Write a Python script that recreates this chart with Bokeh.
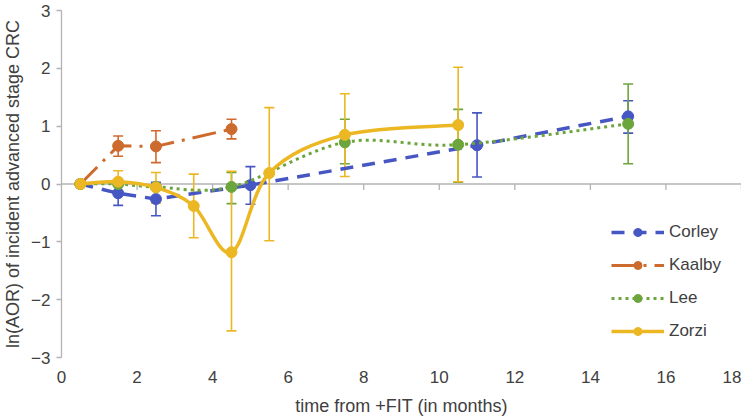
from bokeh.plotting import figure
from bokeh.models import (ColumnDataSource, Whisker, TeeHead, Legend, LegendItem,
                          Span, FixedTicker, Range1d)
from bokeh.embed import file_html
from bokeh.resources import INLINE

# ---------------- data ----------------
corley_x = [0.5, 1.5, 2.5, 5.0, 11.0, 15.0]
corley_y = [0.0, -0.16, -0.26, -0.02, 0.67, 1.17]
corley_lo = [None, -0.37, -0.55, -0.35, 0.12, 0.88]
corley_hi = [None, 0.05, 0.03, 0.30, 1.23, 1.44]

kaalby_x = [0.5, 1.5, 2.5, 4.5]
kaalby_y = [0.0, 0.66, 0.65, 0.95]
kaalby_lo = [None, 0.48, 0.37, 0.78]
kaalby_hi = [None, 0.83, 0.92, 1.12]

lee_x = [0.5, 1.5, 2.5, 4.5, 7.5, 10.5, 15.0]
lee_y = [0.0, 0.0, -0.05, -0.05, 0.72, 0.68, 1.04]
lee_lo = [None, None, None, -0.34, 0.35, 0.03, 0.35]
lee_hi = [None, None, None, 0.20, 1.12, 1.29, 1.73]

zorzi_x = [0.5, 1.5, 2.5, 3.5, 4.5, 5.5, 7.5, 10.5]
zorzi_y = [0.0, 0.04, -0.06, -0.38, -1.18, 0.19, 0.85, 1.02]
zorzi_lo = [None, -0.15, -0.33, -0.93, -2.54, -0.98, 0.13, 0.04]
zorzi_hi = [None, 0.23, 0.20, 0.17, 0.22, 1.32, 1.56, 2.02]

x_ticks = [0, 2, 4, 6, 8, 10, 12, 14, 16, 18]
y_ticks = [-3, -2, -1, 0, 1, 2, 3]

BLUE = "#4656C2"
ORANGE = "#CD6A2D"
GREEN = "#6CA53C"
YELLOW = "#EBB823"
AXIS = "#B3B3B3"
TEXT = "#404040"
FONT = "Liberation Sans"

p = figure(width=741, height=421, output_backend="svg", toolbar_location=None,
           x_range=Range1d(0, 18), y_range=Range1d(-3, 3),
           min_border_left=54, min_border_top=10, min_border_right=0, min_border_bottom=64)
p.outline_line_color = None
p.xgrid.visible = False
p.ygrid.visible = False
p.background_fill_color = "white"

# axes
p.xaxis.ticker = FixedTicker(ticks=x_ticks)
p.yaxis.ticker = FixedTicker(ticks=y_ticks)
p.xaxis.axis_line_color = None
p.xaxis.major_tick_line_color = None
p.xaxis.minor_tick_line_color = None
p.xaxis.major_tick_out = 0
p.xaxis.major_tick_in = 0
p.xaxis.minor_tick_out = 0
p.xaxis.minor_tick_in = 0
p.xaxis.major_label_standoff = 13
p.xaxis.axis_label = "time from +FIT (in months)"
p.yaxis.axis_label = "ln(AOR) of incident advanced stage CRC"
p.yaxis.axis_line_color = AXIS
p.yaxis.axis_line_width = 1.3
p.yaxis.major_tick_line_color = AXIS
p.yaxis.major_tick_line_width = 1.3
p.yaxis.major_tick_out = 5
p.yaxis.major_tick_in = 0
p.yaxis.minor_tick_line_color = None
p.yaxis.minor_tick_out = 0
p.yaxis.minor_tick_in = 0
p.yaxis.major_label_standoff = 6
for ax in (p.xaxis, p.yaxis):
    ax.major_label_text_font = FONT
    ax.major_label_text_font_size = "17px"
    ax.major_label_text_color = TEXT
    ax.axis_label_text_font = FONT
    ax.axis_label_text_font_size = "18px"
    ax.axis_label_text_font_style = "normal"
    ax.axis_label_text_color = TEXT
p.xaxis.axis_label_standoff = 10
p.yaxis.axis_label_standoff = 5

# zero line with ticks
p.add_layout(Span(location=0, dimension="width", line_color=AXIS, line_width=1.3, level="underlay"))
tick_len = 6 * 6.0 / 347
p.segment(x0=x_ticks[1:], y0=[0] * (len(x_ticks) - 1), x1=x_ticks[1:],
          y1=[-tick_len] * (len(x_ticks) - 1), line_color=AXIS, line_width=1.3, level="underlay")


def add_errors(xs, lo, hi, color):
    bx, bl, bh = [], [], []
    for x, l, h in zip(xs, lo, hi):
        if l is not None:
            bx.append(x); bl.append(l); bh.append(h)
    src = ColumnDataSource(dict(x=bx, lo=bl, hi=bh))
    w = Whisker(source=src, base="x", lower="lo", upper="hi", dimension="height",
                line_color=color, line_width=1.6, level="underlay",
                upper_head=TeeHead(size=10, line_color=color, line_width=1.6),
                lower_head=TeeHead(size=10, line_color=color, line_width=1.6))
    p.add_layout(w)


def smooth(xs, ys, color, dash, width):
    n = len(xs)
    X0, Y0, X1, Y1, CX0, CY0, CX1, CY1 = [], [], [], [], [], [], [], []
    for i in range(n - 1):
        xm, ym = (xs[i - 1], ys[i - 1]) if i > 0 else (xs[i], ys[i])
        xp, yp = (xs[i + 2], ys[i + 2]) if i + 2 < n else (xs[i + 1], ys[i + 1])
        X0.append(xs[i]); Y0.append(ys[i]); X1.append(xs[i + 1]); Y1.append(ys[i + 1])
        CX0.append(xs[i] + (xs[i + 1] - xm) / 6.0); CY0.append(ys[i] + (ys[i + 1] - ym) / 6.0)
        CX1.append(xs[i + 1] - (xp - xs[i]) / 6.0); CY1.append(ys[i + 1] - (yp - ys[i]) / 6.0)
    p.bezier(x0=X0, y0=Y0, x1=X1, y1=Y1, cx0=CX0, cy0=CY0, cx1=CX1, cy1=CY1,
             line_color=color, line_width=width, line_dash=dash)


add_errors(corley_x, corley_lo, corley_hi, BLUE)
add_errors(kaalby_x, kaalby_lo, kaalby_hi, ORANGE)
add_errors(lee_x, lee_lo, lee_hi, GREEN)
add_errors(zorzi_x, zorzi_lo, zorzi_hi, YELLOW)

MS = 11
# Corley
c_line = p.line(corley_x, corley_y, line_color=BLUE, line_width=3.5, line_dash="13 9")
c_pts = p.scatter(corley_x, corley_y, size=MS, fill_color=BLUE, line_color=BLUE)
# Kaalby
k_line = p.line(kaalby_x, kaalby_y, line_color=ORANGE, line_width=3, line_dash="24 8 3 8")
k_pts = p.scatter(kaalby_x, kaalby_y, size=MS, fill_color=ORANGE, line_color=ORANGE)
# Lee (smoothed curve; one-point line used only as the legend swatch)
smooth(lee_x, lee_y, GREEN, "3 4", 3)
l_leg = p.line(x=lee_x[:1], y=lee_y[:1], line_color=GREEN, line_width=3, line_dash="3 4")
l_pts = p.scatter(lee_x, lee_y, size=MS, fill_color=GREEN, line_color=GREEN)
# Zorzi
smooth(zorzi_x, zorzi_y, YELLOW, "solid", 3.5)
z_leg = p.line(x=zorzi_x[:1], y=zorzi_y[:1], line_color=YELLOW, line_width=3.5)
z_pts = p.scatter(zorzi_x, zorzi_y, size=MS, fill_color=YELLOW, line_color=YELLOW)

legend = Legend(items=[
    LegendItem(label="Corley", renderers=[c_line, c_pts]),
    LegendItem(label="Kaalby", renderers=[k_line, k_pts]),
    LegendItem(label="Lee", renderers=[l_leg, l_pts]),
    LegendItem(label="Zorzi", renderers=[z_leg, z_pts]),
], location=(550, 16), glyph_width=53, glyph_height=20, label_standoff=5,
    spacing=13, padding=0, margin=0, border_line_color=None, background_fill_alpha=0,
    label_text_font=FONT, label_text_font_size="17px", label_text_color=TEXT)
p.add_layout(legend)

open("out.html", "w").write(file_html(p, INLINE))
